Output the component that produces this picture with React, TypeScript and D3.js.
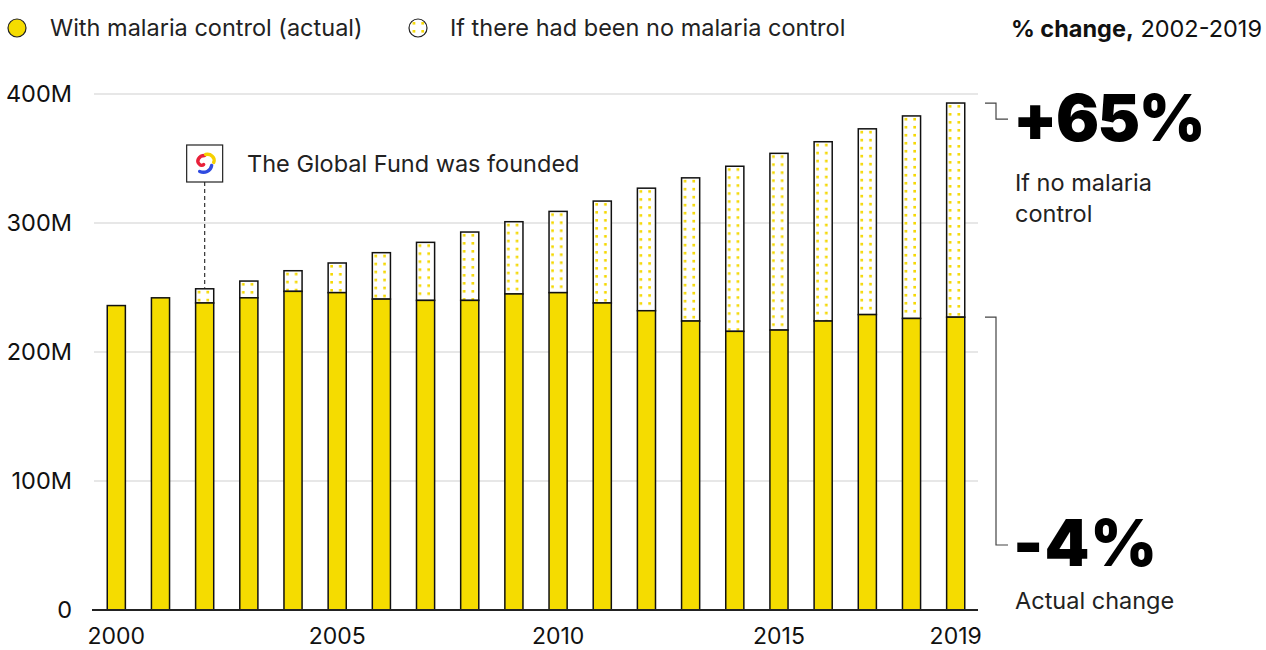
import React from "react";
import * as d3 from "d3";

const years = d3.range(2000, 2020);
const actual = [236, 242, 238, 242, 247, 246, 241, 240, 240, 245, 246, 238, 232, 224, 216, 217, 224, 229, 226, 227];
const noControl = [236, 242, 249, 255, 263, 269, 277, 285, 293, 301, 309, 317, 327, 335, 344, 354, 363, 373, 383, 393];
const yTicks = [0, 100, 200, 300, 400];
const xTickYears = [2000, 2005, 2010, 2015, 2019];

const W = 1266, H = 650;
const FONT = "Inter, 'Noto Sans', sans-serif";
const YELLOW = "#F5DC00";
const DOT = "#F5D800";
const FS = 23.5;

export default function App() {
  const x = d3.scaleBand<number>().domain(years).range([94, 978]).paddingInner(0.59).paddingOuter(0.3);
  const y = d3.scaleLinear().domain([0, 400]).range([610, 94]);
  const bw = x.bandwidth();
  const cx = (yr: number) => (x(yr) as number) + bw / 2;

  const gfYear = 2002;
  const gfi = years.indexOf(gfYear);
  const gfX = cx(gfYear);

  const dotPattern = (id: string, px: number, py: number) => (
    <pattern key={id} id={id} patternUnits="userSpaceOnUse" width={8.7} height={8} x={px} y={py}>
      <rect width={8.7} height={8} fill="#fff" />
      <rect x={2.2} y={2} width={2.6} height={2.6} fill={DOT} />
    </pattern>
  );

  return (
    <svg width={W} height={H} style={{ position: "absolute", left: 0, top: 0, background: "#fff" }} fontFamily={FONT}>
      <defs>
        {years.map((yr, i) => dotPattern(`dots-${i}`, x(yr) as number, y(noControl[i])))}
        {dotPattern("dots-legend", 410.5, 20)}
      </defs>

      {/* Legend */}
      <circle cx={17} cy={28} r={9} fill={YELLOW} stroke="#222" strokeWidth={1.2} />
      <text x={50} y={36} fontSize={FS} fill="#222">With malaria control (actual)</text>
      <circle cx={418} cy={28} r={9} fill="url(#dots-legend)" stroke="#222" strokeWidth={1.2} />
      <text x={450} y={36} fontSize={FS} fill="#222">If there had been no malaria control</text>
      <text x={1262} y={37} fontSize={FS} fill="#111" textAnchor="end">
        <tspan fontWeight={700}>% change,</tspan>
        <tspan> 2002-2019</tspan>
      </text>

      {/* gridlines */}
      {yTicks.filter(t => t > 0).map(t => (
        <line key={t} x1={94} x2={978} y1={y(t)} y2={y(t)} stroke="#cfcfcf" strokeWidth={1.2} />
      ))}
      {yTicks.map(t => (
        <text key={t} x={72} y={y(t)} dy="0.36em" fontSize={FS} textAnchor="end" fill="#111">
          {t === 0 ? "0" : `${t}M`}
        </text>
      ))}

      {/* bars */}
      {years.map((yr, i) => {
        const bx = x(yr) as number;
        return (
          <g key={yr}>
            {noControl[i] > actual[i] && (
              <rect x={bx} y={y(noControl[i])} width={bw} height={y(actual[i]) - y(noControl[i])}
                fill={`url(#dots-${i})`} stroke="#111" strokeWidth={1.5} />
            )}
            <rect x={bx} y={y(actual[i])} width={bw} height={y(0) - y(actual[i])}
              fill={YELLOW} stroke="#111" strokeWidth={1.5} />
          </g>
        );
      })}

      {/* axis */}
      <line x1={92} x2={978} y1={y(0)} y2={y(0)} stroke="#222" strokeWidth={2} />
      {xTickYears.map(yr => (
        <text key={yr} x={cx(yr)} y={644} fontSize={23} textAnchor="middle" fill="#111">{yr}</text>
      ))}

      {/* Global Fund annotation */}
      <line x1={gfX} x2={gfX} y1={182} y2={y(noControl[gfi]) - 1} stroke="#333" strokeWidth={1.2} strokeDasharray="4,3" />
      <rect x={gfX - 18} y={145} width={36} height={37} fill="#fff" stroke="#222" strokeWidth={1.2} />
      <g transform={`translate(${gfX},${163.5})`} fill="none" strokeLinecap="round">
        <path d="M 0,-8 C -6,-8 -9,-2 -5,1 C -4,2 -2,2 -1,1" stroke="#E8213A" strokeWidth={3.4} />
        <path d="M 1,-9 C 6,-10 11,-6 9,-1" stroke="#F6D000" strokeWidth={3.4} />
        <path d="M 7,2 C 6,8 0,10 -5,8" stroke="#2F4BE0" strokeWidth={3.4} />
      </g>
      <text x={247} y={172} fontSize={FS} fill="#222">The Global Fund was founded</text>

      {/* right annotations */}
      <path d={`M 985 ${y(noControl[19])} H 996 V ${y(noControl[19]) + 16} H 1008`} fill="none" stroke="#444" strokeWidth={1.2} />
      <text x={1013} y={141} fontSize={64} fontWeight={900} fill="#000" letterSpacing={-1.5}>+65%</text>
      <text x={1015} y={191} fontSize={FS} fill="#222">If no malaria</text>
      <text x={1015} y={222} fontSize={FS} fill="#222">control</text>

      <path d={`M 985 ${y(actual[19])} H 996 V 545 H 1008`} fill="none" stroke="#444" strokeWidth={1.2} />
      <text x={1013} y={566} fontSize={64} fontWeight={900} fill="#000" letterSpacing={1}>-4%</text>
      <text x={1015} y={609} fontSize={FS} fill="#222">Actual change</text>
    </svg>
  );
}
